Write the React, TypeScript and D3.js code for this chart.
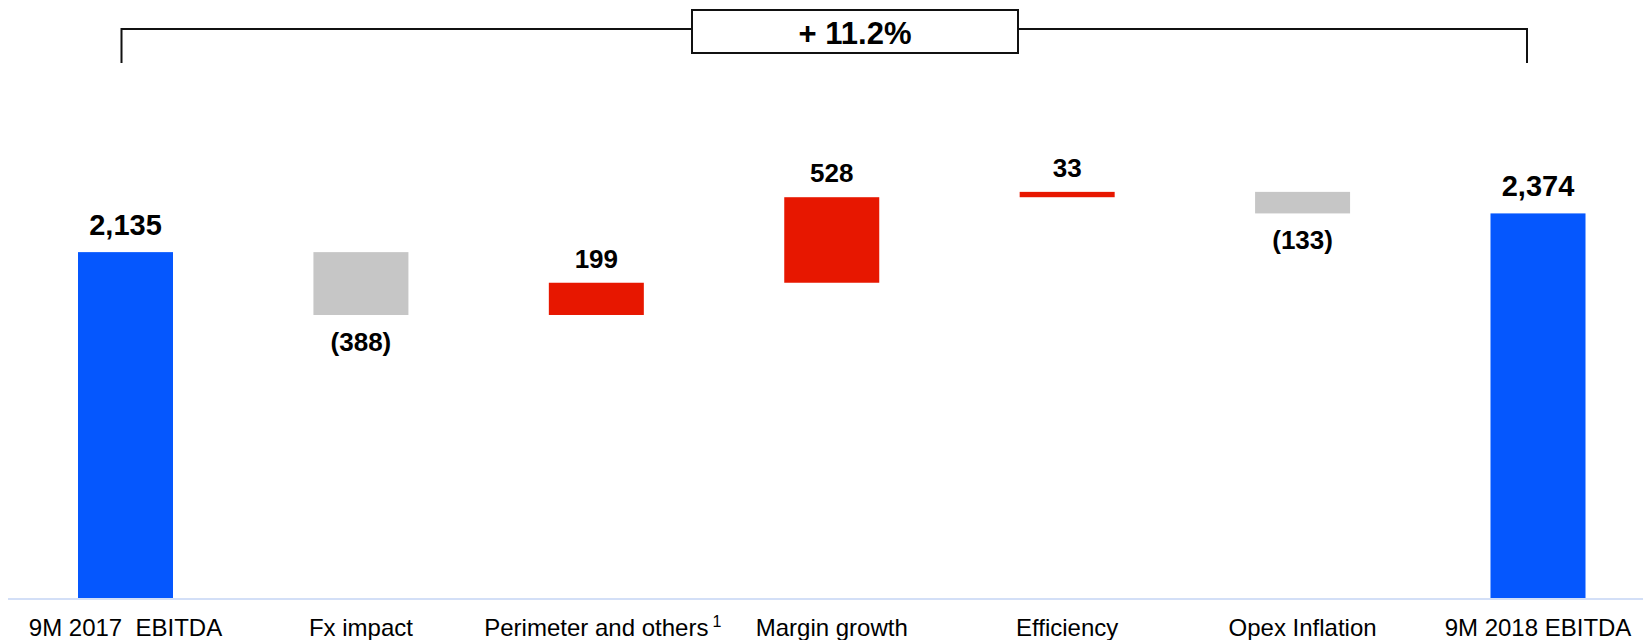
import React, { useEffect, useRef } from "react";
import * as d3 from "d3";

// EBITDA bridge, 9M 2017 -> 9M 2018
const categories = [
  "9M 2017  EBITDA",
  "Fx impact",
  "Perimeter and others",
  "Margin growth",
  "Efficiency",
  "Opex Inflation",
  "9M 2018 EBITDA",
];
const values = [2135, -388, 199, 528, 33, -133, 2374];
const kinds = ["total", "delta", "delta", "delta", "delta", "delta", "total"];
const valueLabels = ["2,135", "(388)", "199", "528", "33", "(133)", "2,374"];
const footnotes = ["", "", "1", "", "", "", ""];
const growthLabel = "+ 11.2%";

const W = 1643;
const H = 640;
const FONT = "'Liberation Sans', Arial, Helvetica, sans-serif";
const COLORS = { total: "#0557fe", up: "#e71700", down: "#c6c6c6" };

export default function App() {
  const ref = useRef<SVGSVGElement | null>(null);

  useEffect(() => {
    const svg = d3.select(ref.current);
    svg.selectAll("*").remove();

    const x = d3.scalePoint<string>().domain(categories).range([125.5, 1538]);
    const y = d3.scaleLinear().domain([0, 3000]).range([598, 112]);
    const barW = 95;

    // running totals for the floating steps
    let run = 0;
    const steps = values.map((v, i) => {
      let lo: number, hi: number;
      if (kinds[i] === "total") {
        lo = 0;
        hi = v;
        run = v;
      } else {
        const start = run;
        run = run + v;
        lo = Math.min(start, run);
        hi = Math.max(start, run);
      }
      return { cat: categories[i], v, kind: kinds[i], lo, hi, label: valueLabels[i], note: footnotes[i] };
    });

    // baseline
    svg
      .append("line")
      .attr("x1", 8)
      .attr("x2", W)
      .attr("y1", 599)
      .attr("y2", 599)
      .attr("stroke", "#d3dff7")
      .attr("stroke-width", 2);

    // bars
    svg
      .append("g")
      .selectAll("rect")
      .data(steps)
      .join("rect")
      .attr("x", (d) => (x(d.cat) as number) - barW / 2)
      .attr("width", barW)
      .attr("y", (d) => y(d.hi))
      .attr("height", (d) => y(d.lo) - y(d.hi))
      .attr("fill", (d) => (d.kind === "total" ? COLORS.total : d.v >= 0 ? COLORS.up : COLORS.down));

    // value labels
    svg
      .append("g")
      .selectAll("text")
      .data(steps)
      .join("text")
      .attr("x", (d) => x(d.cat) as number)
      .attr("y", (d) => {
        if (d.kind === "total") return y(d.hi) - 17;
        return d.v >= 0 ? y(d.hi) - 15 : y(d.lo) + 36;
      })
      .attr("text-anchor", "middle")
      .attr("font-family", FONT)
      .attr("font-weight", "bold")
      .attr("font-size", (d) => (d.kind === "total" ? 29 : 26))
      .attr("fill", "#000")
      .text((d) => d.label);

    // category labels with optional footnote marker
    const catG = svg.append("g");
    steps.forEach((d) => {
      const t = catG
        .append("text")
        .attr("x", x(d.cat) as number)
        .attr("y", 636)
        .attr("text-anchor", "middle")
        .attr("font-family", FONT)
        .attr("font-size", 24)
        .attr("fill", "#000")
        .style("white-space", "pre")
        .text(d.cat);
      if (d.note) {
        const len = (t.node() as SVGTextElement).getComputedTextLength();
        catG
          .append("text")
          .attr("x", (x(d.cat) as number) + len / 2 + 4)
          .attr("y", 627)
          .attr("font-family", FONT)
          .attr("font-size", 16)
          .attr("fill", "#000")
          .text(d.note);
      }
    });

    // growth bracket across the two totals
    const bx0 = (x(categories[0]) as number) - 4;
    const bx1 = (x(categories[categories.length - 1]) as number) - 11;
    const by = 29;
    const boxX0 = 692;
    const boxX1 = 1018;
    const br = svg.append("g").attr("stroke", "#111").attr("stroke-width", 2).attr("fill", "none");
    br.append("path").attr("d", `M${bx0},63 V${by} H${boxX0}`);
    br.append("path").attr("d", `M${boxX1},${by} H${bx1} V63`);
    br.append("rect")
      .attr("x", boxX0)
      .attr("y", 10)
      .attr("width", boxX1 - boxX0)
      .attr("height", 43)
      .attr("fill", "#fff");
    svg
      .append("text")
      .attr("x", (boxX0 + boxX1) / 2)
      .attr("y", 44)
      .attr("text-anchor", "middle")
      .attr("font-family", FONT)
      .attr("font-weight", "bold")
      .attr("font-size", 31)
      .attr("fill", "#000")
      .text(growthLabel);
  }, []);

  return (
    <svg
      ref={ref}
      width={W}
      height={H}
      viewBox={`0 0 ${W} ${H}`}
      style={{ position: "absolute", left: 0, top: 0, background: "#fff", display: "block" }}
    />
  );
}
